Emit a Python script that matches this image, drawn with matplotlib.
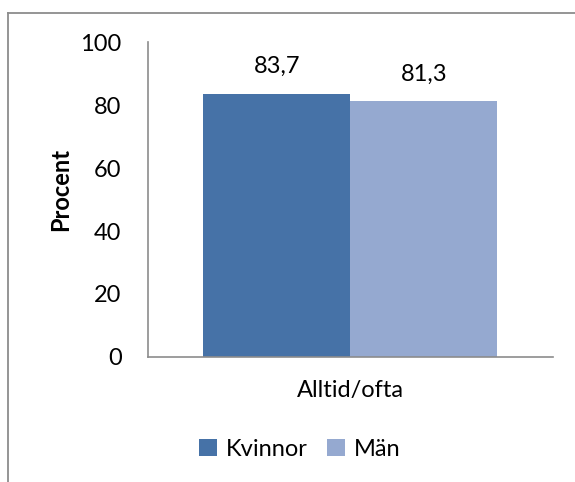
import matplotlib
matplotlib.use("Agg")
import matplotlib.pyplot as plt
from matplotlib.lines import Line2D
import numpy as np

plt.rcParams['font.family'] = ['Lato', 'DejaVu Sans']

categories = ["Alltid/ofta"]
series_names = ["Kvinnor", "Män"]
kvinnor = [83.7]
man = [81.3]
value_labels_k = ["83,7"]
value_labels_m = ["81,3"]
yticks = [0, 20, 40, 60, 80, 100]

colors = ["#4672A7", "#95A9D0"]

W, H = 575, 482
fig = plt.figure(figsize=(W / 100, H / 100), dpi=100)
ax = fig.add_axes([148 / W, 1 - 356.7 / H, (552.5 - 148) / W, (356.7 - 42.5) / H])

x = np.arange(len(categories))
bw = 0.3634
b1 = ax.bar(x - bw / 2, kvinnor, bw, color=colors[0], label=series_names[0])
b2 = ax.bar(x + bw / 2, man, bw, color=colors[1], label=series_names[1])

fs = 17
for rect, lab in zip(b1, value_labels_k):
    ax.annotate(lab, (rect.get_x() + rect.get_width() / 2, rect.get_height()),
                xytext=(0, 19.5), textcoords="offset points", ha="center", va="center",
                fontsize=fs, color="#000000")
for rect, lab in zip(b2, value_labels_m):
    ax.annotate(lab, (rect.get_x() + rect.get_width() / 2, rect.get_height()),
                xytext=(0, 19.5), textcoords="offset points", ha="center", va="center",
                fontsize=fs, color="#000000")

ax.set_xlim(-0.5, 0.5)
ax.set_ylim(0, 100)
ax.set_yticks(yticks)
ax.set_yticklabels([str(t) for t in yticks], fontsize=fs)
ax.set_xticks(x)
ax.set_xticklabels(categories, fontsize=fs)
ax.tick_params(axis='y', length=0, pad=19)
ax.tick_params(axis='x', length=0, pad=17)
for s in ["top", "right"]:
    ax.spines[s].set_visible(False)
ax.spines["left"].set_color("#8C8C8C")
ax.spines["bottom"].set_color("#8C8C8C")
ax.spines["left"].set_linewidth(1.2)
ax.spines["bottom"].set_linewidth(1.2)

fig.text(61 / W, 1 - 190 / H, "Procent", rotation=90, ha="center", va="center",
         fontsize=fs, fontweight="bold")

leg = fig.legend(handles=[b1, b2], labels=series_names, loc="center",
                 bbox_to_anchor=(300 / W, 1 - 449 / H), ncol=2, frameon=False,
                 fontsize=fs, handlelength=0.75, handleheight=0.75,
                 handletextpad=0.4, columnspacing=0.8)

# chart area border (clipped at right and bottom)
fig.add_artist(Line2D([8 / W, 1.0], [1 - 12.5 / H, 1 - 12.5 / H], transform=fig.transFigure,
                      color="#8C8C8C", linewidth=1.3))
fig.add_artist(Line2D([8 / W, 8 / W], [0, 1 - 12.5 / H], transform=fig.transFigure,
                      color="#8C8C8C", linewidth=1.3))

fig.savefig("out.png", dpi=100)
